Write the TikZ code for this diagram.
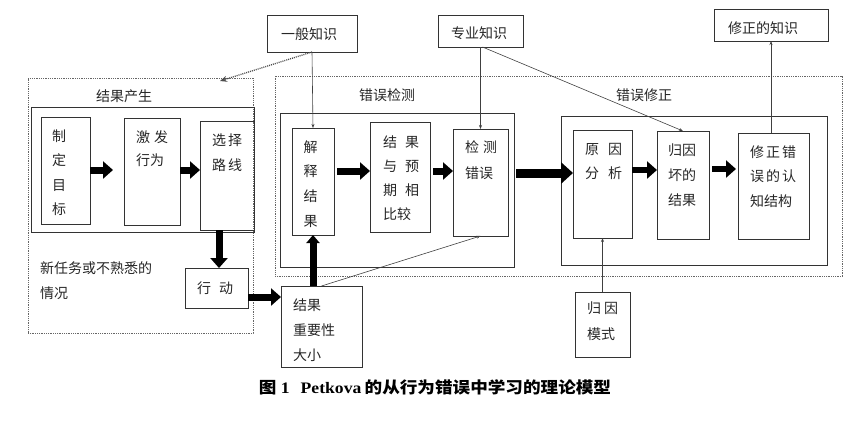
\documentclass[tikz,border=0pt]{standalone}
\usepackage{fontspec}
\setmainfont{Noto Sans CJK SC}
\newfontfamily\lat{Liberation Serif}
\usetikzlibrary{arrows.meta,calc}
\newcommand{\bx}[6][box]{\node[#1, minimum width={(#5-#3)*1pt}, minimum height={(#6-#4)*1pt}] (#2) at ({(#3+#5)/2},{(#4+#6)/2}) {};}
\tikzset{
  box/.style={draw=black!80, line width=0.8pt, inner sep=0pt, outer sep=0pt},
  dotbox/.style={draw=black!60, line width=0.7pt, dash pattern=on 0.9pt off 0.9pt, inner sep=0pt, outer sep=0pt},
  txt/.style={font=\fontsize{14}{24.5}\selectfont, inner sep=0pt, anchor=west, align=left, text=black!85},
  ctxt/.style={font=\fontsize{14}{24.5}\selectfont, inner sep=0pt, text=black!85},
  fat/.style={line width=7pt, -{Triangle[length=10pt,width=17pt]}},
  upfat/.style={line width=7pt, -{Triangle[length=8pt,width=13pt]}},
  bigfat/.style={line width=9pt, -{Triangle[length=12pt,width=21pt]}},
  thinarr/.style={draw=black!75, line width=0.6pt, -{Stealth[length=4pt,width=3pt]}},
  dotarr/.style={draw=black!70, line width=1.3pt, dash pattern=on 1pt off 1pt, -{Stealth[length=7pt,width=6pt]}},
}
\begin{document}
\begin{tikzpicture}[x=1pt,y=-1pt]
\useasboundingbox (0,0) rectangle (867,421);
% outer dotted boxes
\bx[dotbox]{dotL}{28}{78}{253}{333}
\bx[dotbox]{dotR}{275}{76}{842}{276}
% inner solid boxes
\bx{inL}{31}{107}{254}{232}
\bx{inM}{280}{113}{514}{267}
\bx{inR}{561}{116}{827}{265}
% boxes
\bx{bZD}{41}{117}{90}{224}
\bx{bJF}{124}{118}{180}{225}
\bx{bXZ}{200}{121}{254}{230}
\bx{bXD}{185}{268}{248}{308}
\bx{bJG}{281}{286}{362}{367}
\bx{bJS}{292}{128}{334}{235}
\bx{bBJ}{370}{122}{430}{232}
\bx{bJC}{453}{129}{508}{236}
\bx{bYY}{573}{130}{632}{238}
\bx{bGY}{657}{131}{709}{239}
\bx{bXG}{738}{133}{809}{239}
\bx{bYB}{267}{15}{357}{52}
\bx{bZY}{438}{15}{523}{47}
\bx{bXS}{714}{9}{828}{41}
\bx{bGM}{575}{292}{630}{357}
% texts
\node[ctxt] (lJG) at (124,96) {结果产生};
\node[ctxt] (lJC) at (387,95) {错误检测};
\node[ctxt] (lXZ) at (644,95) {错误修正};
\node[ctxt] (tYB) at (309,34) {一般知识};
\node[ctxt] (tZY) at (479,33) {专业知识};
\node[ctxt] (tXS) at (763,28) {修正的知识};
\node[txt] (tZD) at (52,172.5) {制\\定\\目\\标};
\node[txt, font=\fontsize{14}{23}\selectfont] (tJF) at (136,148.5) {激\hspace{4pt}发\\行为};
\node[txt, font=\fontsize{14}{25}\selectfont] (tXZ) at (212,152.5) {选\hspace{2pt}择\\路\hspace{2pt}线};
\node[txt, font=\fontsize{14}{25}\selectfont] (tXR) at (40,280.5) {新任务或不熟悉的\\情况};
\node[txt] (tXD) at (197,288) {行\hspace{8pt}动};
\node[txt, font=\fontsize{14}{25}\selectfont] (tJG) at (293,330) {结果\\重要性\\大小};
\node[txt, font=\fontsize{14}{24.7}\selectfont] (tJS) at (303.5,184) {解\\释\\结\\果};
\node[txt, font=\fontsize{14}{24}\selectfont] (tBJ) at (383,178) {结\hspace{8pt}果\\与\hspace{8pt}预\\期\hspace{8pt}相\\比较};
\node[txt, font=\fontsize{14}{26}\selectfont] (tJC) at (465,160) {检\hspace{4pt}测\\错误};
\node[txt, font=\fontsize{14}{24}\selectfont] (tYY) at (585,161) {原\hspace{9pt}因\\分\hspace{9pt}析};
\node[txt, font=\fontsize{14}{25}\selectfont] (tGY) at (668,175) {归因\\坏的\\结果};
\node[txt, font=\fontsize{14}{24.5}\selectfont] (tXG) at (750,176.5) {修\hspace{2pt}正\hspace{2pt}错\\误\hspace{2pt}的\hspace{2pt}认\\知结构};
\node[txt, font=\fontsize{14}{26}\selectfont] (tGM) at (587,321) {归\hspace{3pt}因\\模式};
% caption
\node[inner sep=0pt, font=\fontsize{16}{16}\selectfont\bfseries, xscale=1.1, transform shape] (cap) at (435,387) {图\hspace{4pt}{\lat 1}\hspace{10pt}{\lat Petkova}\hspace{3pt}的从行为错误中学习的理论模型};
% thick arrows
\draw[fat] (bZD.east |- 0,170) -- (113,170);
\draw[fat] (bJF.east |- 0,170) -- (bXZ.west |- 0,170);
\draw[fat] (219,230) -- (219,268);
\draw[fat] (bXD.east |- 0,297) -- (bJG.west |- 0,297);
\draw[upfat] (bJS.south |- bJG.north) -- (bJS.south);
\draw[fat] (337,171) -- (bBJ.west |- 0,171);
\draw[fat] (433,171) -- (bJC.west |- 0,171);
\draw[bigfat] (516,173) -- (bYY.west |- 0,173);
\draw[fat, line width=6pt] (bYY.east |- 0,170) -- (bGY.west |- 0,170);
\draw[fat, line width=6pt] (712,169) -- (736,169);
% thin arrows
\coordinate (dotend) at (220,81);
\draw[dotarr] (bYB.south) -- (dotend);
\draw[thinarr] (bYB.south) -- (bJS.north);
\draw[thinarr] (bZY.south) -- (bJC.north);
\draw[thinarr] ([xshift=2pt]bZY.south) -- (bGY.north);
\draw[thinarr] (bXS.south |- bXG.north) -- (bXS.south);
\draw[thinarr] (bJG.north) -- (bJC.south);
\draw[thinarr] (bGM.north) -- (bYY.south);
\end{tikzpicture}
\end{document}
